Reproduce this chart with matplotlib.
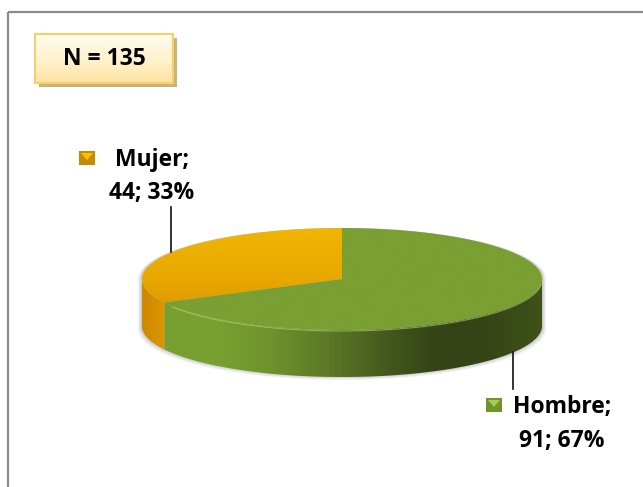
import numpy as np
import matplotlib.pyplot as plt
from matplotlib.patches import Polygon, Rectangle
from matplotlib.colors import LinearSegmentedColormap

labels = ['Mujer', 'Hombre']
counts = [44, 91]
total = sum(counts)

W, H = 643, 487
fig = plt.figure(figsize=(W / 100, H / 100), dpi=100)
ax = fig.add_axes([0, 0, 1, 1])
ax.set_xlim(0, W)
ax.set_ylim(H, 0)
ax.axis('off')

plt.rcParams['font.family'] = ['Open Sans', 'DejaVu Sans']

# chart area border (runs off the right and bottom edges)
ax.add_patch(Rectangle((8, 12), 700, 600, fill=False, ec='#8c8c8c', lw=1.6, zorder=1))

# 3D pie geometry
cx, cy, a, b, depth = 342, 279, 200, 51, 47


def ell(t, dy=0):
    r = np.radians(t)
    return np.column_stack([cx + a * np.cos(r), cy - b * np.sin(r) + dy])


def grad_fill(poly, colors, horizontal, extent, z):
    cmap = LinearSegmentedColormap.from_list('g', colors)
    g = np.linspace(0, 1, 256)
    img = g[None, :] if horizontal else g[:, None]
    x0, x1, y0, y1 = extent
    im = ax.imshow(img, cmap=cmap, extent=(x0, x1, y1, y0), aspect='auto',
                   interpolation='bilinear', zorder=z)
    p = Polygon(poly, closed=True, fc='none', ec='none', zorder=z)
    ax.add_patch(p)
    im.set_clip_path(p)


# slice angles: start at 12 o'clock, counterclockwise
angles = []
start = 90.0
for c in counts:
    span = 360.0 * c / total
    angles.append((start, start + span))
    start += span

# soft shadow below
for k, alpha in enumerate([0.05, 0.05, 0.06, 0.07]):
    sh = ell(np.linspace(180, 360, 100), depth + 3 - k)
    sh = np.vstack([ell(np.linspace(0, 180, 100), 0), sh])
    sh[:, 0] = cx + (sh[:, 0] - cx) * (1.02 - 0.005 * k)
    ax.add_patch(Polygon(sh, closed=True, fc='#000000', ec='none', alpha=alpha, zorder=2))

side_colors = {
    'Mujer': ['#d08800', '#dc9600'],
    'Hombre': ['#79a031', '#77a030', '#6e922d', '#5c7a27', '#475c1e', '#344416', '#354516', '#3f5219'],
}
top_colors = {
    'Mujer': ['#f0b600', '#e8a800', '#d78e00'],
    'Hombre': ['#7a9f32', '#7a9f32'],
}

# side walls (front half only)
for lab, (t1, t2) in zip(labels, angles):
    for off in (0, 360):
        s1, s2 = max(t1, 180 + off), min(t2, 360 + off)
        if s2 <= s1:
            continue
        ts = np.linspace(s1, s2, 120)
        poly = np.vstack([ell(ts), ell(ts[::-1], depth)])
        x0 = poly[:, 0].min()
        x1 = cx + a if lab == 'Hombre' else poly[:, 0].max()
        grad_fill(poly, side_colors[lab], True, (x0, x1, cy - b, cy + b + depth), 3)

# top faces
for lab, (t1, t2) in zip(labels, angles):
    ts = np.linspace(t1, t2, 200)
    poly = np.vstack([[cx, cy], ell(ts)])
    grad_fill(poly, top_colors[lab], False, (cx - a, cx + a, cy - b, cy + b), 4)

# light rim along the front edge of the top
rim = ell(np.linspace(212, 355, 200))
ax.plot(rim[:, 0], rim[:, 1] + 1, color='#b8d878', lw=0.8, alpha=0.6, zorder=5)

# N box with shadow
ax.add_patch(Rectangle((39, 38), 138, 49, fc='#c9b27c', ec='none', zorder=6))
grad_fill(np.array([[35, 34], [173, 34], [173, 83], [35, 83]]),
          ['#fffcef', '#fff3cf', '#fde3a0'], False, (35, 173, 34, 83), 7)
ax.add_patch(Rectangle((35, 34), 138, 49, fill=False, ec='#f6cf6a', lw=1.5, zorder=8))
ax.text(104, 59, f'N = {total}', ha='center', va='center', fontsize=16.5,
        fontweight='bold', color='#000000', zorder=9)

# data labels with legend keys
pct = [round(100 * c / total) for c in counts]
lab_pos = {'Mujer': (152, 177), 'Hombre': (562, 424)}
key_pos = {'Mujer': (87, 158), 'Hombre': (494, 405)}
key_cols = {'Mujer': ('#f5c400', '#c88a00'), 'Hombre': ('#a6cc5a', '#6f9428')}
for lab, c, p in zip(labels, counts, pct):
    x, y = lab_pos[lab]
    ax.text(x, y, f'{lab};\n{c}; {p}%', ha='center', va='center', fontsize=16.5,
            fontweight='bold', color='#000000', linespacing=1.5, zorder=9)
    kx, ky = key_pos[lab]
    light, dark = key_cols[lab]
    ax.add_patch(Rectangle((kx - 8, ky - 7), 16, 14, fc=dark, ec='none', zorder=9))
    ax.add_patch(Polygon([[kx - 6, ky - 5], [kx + 6, ky - 5], [kx, ky + 2]],
                         closed=True, fc=light, ec='none', zorder=10))

# leader lines
ax.plot([171, 171], [207, 252], color='#111111', lw=1.2, zorder=9)
ax.plot([513, 513], [352, 389], color='#111111', lw=1.2, zorder=9)

fig.savefig('out.png', dpi=100)
